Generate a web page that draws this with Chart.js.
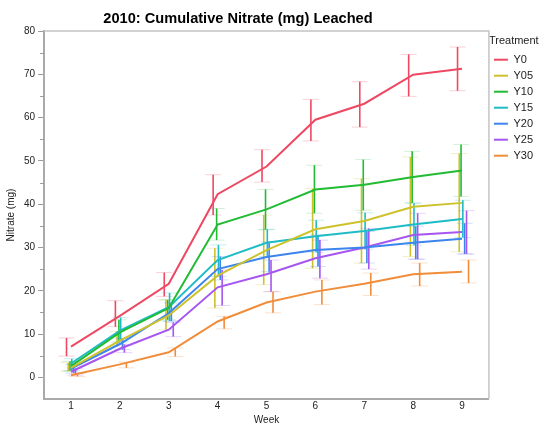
<!DOCTYPE html>
<html>
<head>
<meta charset="utf-8">
<script src="https://cdn.jsdelivr.net/npm/chart.js@4.4.1/dist/chart.umd.min.js"></script>
<style>
body { margin: 0; background: #fff; }
#wrap { position: relative; width: 543px; height: 426px; }
#title { position: absolute; left: 0; top: 10px; width: 476px; text-align: center;
  font: bold 14.6px "Liberation Sans", Arial, sans-serif; color: #000; }
</style>
</head>
<body>
<div id="wrap">
  <canvas id="chart1"></canvas>
  <div id="title">2010: Cumulative Nitrate (mg) Leached</div>
</div>
<script>
// weeks and treatments
const weeks = [1, 2, 3, 4, 5, 6, 7, 8, 9];
const treatments = ['Y0', 'Y05', 'Y10', 'Y15', 'Y20', 'Y25', 'Y30'];
const yTicks = [0, 10, 20, 30, 40, 50, 60, 70, 80];

// mean cumulative nitrate (mg) per week
const y0Mean  = [7.1, 14.2, 21.6, 42.3, 48.7, 59.5, 63.2, 69.9, 71.3];
const y05Mean = [2.2, 8.5, 14.3, 23.5, 29.4, 34.2, 36.1, 39.4, 40.3];
const y10Mean = [2.6, 10.4, 16.0, 35.3, 38.8, 43.4, 44.5, 46.3, 47.8];
const y15Mean = [3.2, 10.8, 16.2, 27.1, 31.1, 32.6, 33.8, 35.3, 36.6];
const y20Mean = [2.0, 7.7, 14.8, 25.0, 27.8, 29.4, 30.0, 31.1, 32.0];
const y25Mean = [1.3, 6.6, 11.0, 20.8, 23.8, 27.5, 30.0, 32.9, 33.6];
const y30Mean = [0.5, 3.0, 5.8, 12.9, 17.3, 19.8, 21.6, 23.8, 24.4];

// error bar ends
const y0Low   = [4.9, 11.7, 18.7, 37.5, 45.1, 54.6, 57.8, 64.9, 66.2];
const y0High  = [9.1, 17.7, 24.2, 46.8, 52.6, 64.2, 68.3, 74.6, 76.3];
const y05Low  = [1.4, 7.2, 11.0, 16.0, 21.4, 25.2, 26.4, 27.9, 29.0];
const y05High = [3.4, 10.6, 17.9, 29.8, 37.5, 43.6, 45.9, 50.9, 51.7];
const y10Low  = [1.5, 8.0, 13.3, 31.7, 34.1, 37.9, 38.6, 40.3, 41.8];
const y10High = [3.7, 13.3, 17.9, 39.0, 43.4, 49.0, 50.3, 52.2, 53.8];
const y15Low  = [1.5, 8.3, 13.0, 23.3, 27.9, 28.9, 29.6, 30.5, 32.3];
const y15High = [4.3, 13.8, 19.5, 30.6, 34.2, 36.3, 38.0, 40.2, 40.9];
const y20Low  = [1.0, 6.4, 13.0, 22.5, 24.4, 25.6, 26.4, 27.3, 28.5];
const y20High = [3.0, 9.0, 17.2, 27.9, 31.3, 32.9, 33.7, 34.9, 35.6];
const y25Low  = [0.5, 5.7, 9.4, 16.6, 19.8, 22.9, 25.0, 27.3, 28.5];
const y25High = [2.0, 7.6, 12.7, 24.8, 27.1, 31.7, 34.4, 37.9, 38.5];
const y30Low  = [0.2, 2.2, 4.8, 11.2, 14.9, 16.8, 18.9, 21.1, 21.8];
const y30High = [0.9, 3.5, 6.8, 14.1, 19.8, 22.5, 24.1, 26.4, 27.1];

const means = [y0Mean, y05Mean, y10Mean, y15Mean, y20Mean, y25Mean, y30Mean];
const lows  = [y0Low, y05Low, y10Low, y15Low, y20Low, y25Low, y30Low];
const highs = [y0High, y05High, y10High, y15High, y20High, y25High, y30High];

const colors = ['#EE4862', '#CDC22C', '#22BB33', '#1FBCC6', '#3C84EE', '#A656F0', '#F18C3A'];
const capColors = ['rgba(238,72,98,0.25)', 'rgba(205,194,44,0.25)', 'rgba(34,187,51,0.2)',
  'rgba(31,188,198,0.25)', 'rgba(60,132,238,0.25)', 'rgba(166,86,240,0.25)', 'rgba(241,140,58,0.25)'];
const barShift = [-4.5, -2.8, -1, 0.8, 2.6, 4.5, 6.5];

// error bars drawn through the scales, under the lines
const errorBars = {
    id: 'errorBars',
    beforeDatasetsDraw(chart) {
        const ctx = chart.ctx, xs = chart.scales.x, ys = chart.scales.y;
        ctx.save();
        chart.data.datasets.forEach((ds, i) => {
            weeks.forEach((w, j) => {
                const x = xs.getPixelForValue(w) + barShift[i];
                const yl = ys.getPixelForValue(lows[i][j]);
                const yh = ys.getPixelForValue(highs[i][j]);
                ctx.strokeStyle = capColors[i];
                ctx.lineWidth = 1;
                ctx.beginPath();
                ctx.moveTo(x - 8, yl); ctx.lineTo(x + 8, yl);
                ctx.moveTo(x - 8, yh); ctx.lineTo(x + 8, yh);
                ctx.stroke();
                ctx.strokeStyle = colors[i];
                ctx.lineWidth = 1.6;
                ctx.beginPath();
                ctx.moveTo(x, yl); ctx.lineTo(x, yh);
                ctx.stroke();
            });
        });
        ctx.restore();
    }
};

// top/right frame plus the short minor ticks on y
const frame = {
    id: 'frame',
    afterDraw(chart) {
        const ctx = chart.ctx, a = chart.chartArea, ys = chart.scales.y;
        ctx.save();
        ctx.strokeStyle = '#c4c4c4';
        ctx.lineWidth = 1.5;
        ctx.beginPath();
        ctx.moveTo(a.left, a.top); ctx.lineTo(a.right, a.top); ctx.lineTo(a.right, a.bottom);
        ctx.stroke();
        ctx.strokeStyle = '#999';
        ctx.lineWidth = 1;
        for (let v = 5; v < 80; v += 10) {
            const y = Math.round(ys.getPixelForValue(v)) + 0.5;
            ctx.beginPath(); ctx.moveTo(a.left - 4, y); ctx.lineTo(a.left, y); ctx.stroke();
        }
        ctx.restore();
    }
};

const ctx1 = document.getElementById('chart1').getContext('2d');
const chart1 = new Chart(ctx1, {
    type: 'line',
    data: {
        datasets: treatments.map((t, i) => ({
            label: t,
            data: weeks.map((w, j) => ({ x: w, y: means[i][j] })),
            borderColor: colors[i],
            backgroundColor: colors[i],
            borderWidth: 2,
            pointRadius: 0,
            fill: false,
            tension: 0
        }))
    },
    options: {
        responsive: true,
        maintainAspectRatio: false,
        animation: false,
        layout: { padding: { top: 31, left: 5, right: 0, bottom: 0 } },
        plugins: {
            title: { display: false },
            tooltip: { enabled: false },
            legend: {
                position: 'right',
                align: 'start',
                title: { display: true, text: 'Treatment', color: '#222', position: 'start',
                         font: { size: 11, family: 'Liberation Sans' }, padding: { top: 4, bottom: 1 } },
                labels: { usePointStyle: true, pointStyle: 'line', pointStyleWidth: 14, color: '#222',
                          font: { size: 11, family: 'Liberation Sans' }, padding: 5 }
            }
        },
        scales: {
            x: {
                type: 'linear',
                min: 0.45,
                max: 9.55,
                afterBuildTicks: s => { s.ticks = weeks.map(v => ({ value: v })); },
                grid: { display: false, drawTicks: false },
                border: { color: '#aaa', width: 2 },
                ticks: { color: '#222', font: { size: 10, family: 'Liberation Sans' }, padding: 1 },
                title: { display: true, text: 'Week', color: '#222', font: { size: 10, family: 'Liberation Sans' }, padding: { top: 1, bottom: 0 } }
            },
            y: {
                min: -5,
                max: 80,
                afterBuildTicks: s => { s.ticks = yTicks.map(v => ({ value: v })); },
                grid: { drawOnChartArea: false, drawTicks: true, tickLength: 6, tickColor: '#999' },
                border: { color: '#aaa', width: 2 },
                ticks: { color: '#222', font: { size: 10, family: 'Liberation Sans' }, padding: 3 },
                title: { display: true, text: 'Nitrate (mg)', color: '#222', font: { size: 10, family: 'Liberation Sans' }, padding: { top: 0, bottom: 4 } }
            }
        }
    },
    plugins: [errorBars, frame]
});
</script>
</body>
</html>
